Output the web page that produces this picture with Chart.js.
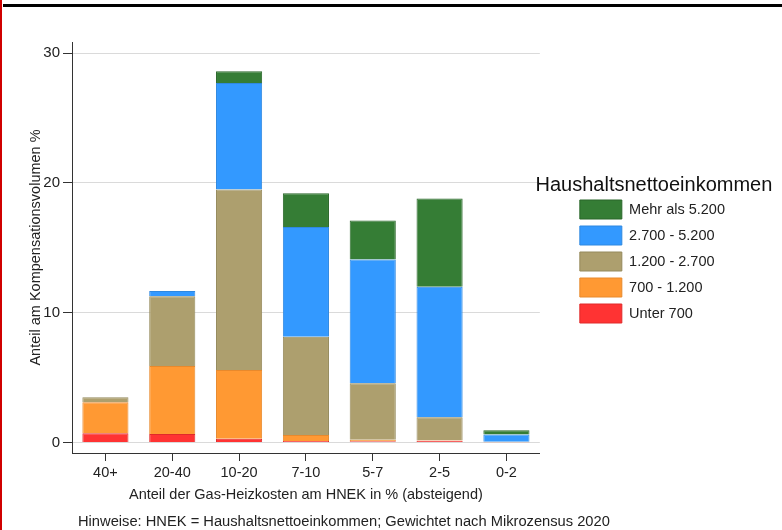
<!DOCTYPE html>
<html>
<head>
<meta charset="utf-8">
<script src="https://cdn.jsdelivr.net/npm/chart.js@4.4.1/dist/chart.umd.min.js"></script>
<style>
  html, body { margin: 0; padding: 0; background: #fff; }
  #wrap { position: relative; width: 782px; height: 530px; overflow: hidden; }
  #topline { position: absolute; left: 3px; top: 4px; width: 779px; height: 3px; background: #000; }
  #leftline { position: absolute; left: 0; top: 0; width: 2px; height: 530px; background: #d00000; }
  canvas { position: absolute; left: 0; top: 0; }
</style>
</head>
<body>
<div id="wrap">
  <canvas id="c" width="782" height="530"></canvas>
  <div id="topline"></div>
  <div id="leftline"></div>
</div>
<script>
const categories = ['40+', '20-40', '10-20', '7-10', '5-7', '2-5', '0-2'];
const unter700   = [0.72, 0.67, 0.30, 0.12, 0.10, 0.15, 0.02];
const s700_1200  = [2.38, 5.23, 5.30, 0.47, 0.12, 0.04, 0.02];
const s1200_2700 = [0.40, 5.38, 13.90, 7.56, 4.35, 1.76, 0.03];
const s2700_5200 = [0.00, 0.39, 8.20, 8.45, 9.53, 10.05, 0.55];
const mehr5200   = [0.00, 0.00, 0.90, 2.60, 3.00, 6.80, 0.33];
const seriesNames = ['Unter 700', '700 - 1.200', '1.200 - 2.700', '2.700 - 5.200', 'Mehr als 5.200'];
const yTickValues = [0, 10, 20, 30];
const yTitle = 'Anteil am Kompensationsvolumen %';
const xTitle = 'Anteil der Gas-Heizkosten am HNEK in % (absteigend)';
const legendTitle = 'Haushaltsnettoeinkommen';
const footnote = 'Hinweise: HNEK = Haushaltsnettoeinkommen; Gewichtet nach Mikrozensus 2020';

const FONT = "'Liberation Sans', Arial, Helvetica, sans-serif";
const fills   = ['#ff3333', '#ff9933', '#ad9f6e', '#3399ff', '#357d35'];
const borders = ['#e02a2a', '#e8892c', '#958a5c', '#2f88e0', '#2a672a'];
const seriesData = [unter700, s700_1200, s1200_2700, s2700_5200, mehr5200];
const LEGEND_GAP = 33;

const legendGapPlugin = {
  id: 'legendGap',
  beforeLayout(chart) {
    const lg = chart.legend;
    if (lg && !lg._gapPatched) {
      const origFit = lg.fit.bind(lg);
      lg.fit = function () { origFit(); this.width += LEGEND_GAP; };
      lg.draw = function () { if (this.options.display) { this._draw(); } };
      lg._gapPatched = true;
    }
  },
  afterLayout(chart) {
    const lg = chart.legend;
    const ca = chart.chartArea;
    if (lg) {
      lg.left += LEGEND_GAP;
      lg.width -= LEGEND_GAP;
      lg.top = ca.top;
      lg.bottom = ca.bottom;
      lg.height = ca.bottom - ca.top;
    }
  }
};

const footnotePlugin = {
  id: 'footnote',
  afterDraw(chart) {
    const ctx = chart.ctx;
    ctx.save();
    ctx.font = '14.7px ' + FONT;
    ctx.fillStyle = '#222';
    ctx.textBaseline = 'middle';
    ctx.textAlign = 'left';
    ctx.fillText(footnote, 78, 522);
    ctx.restore();
  }
};

new Chart(document.getElementById('c'), {
  type: 'bar',
  data: {
    labels: categories,
    datasets: seriesData.map((d, i) => ({
      label: seriesNames[i],
      data: d,
      backgroundColor: fills[i],
      borderColor: borders[i],
      borderWidth: 1,
      categoryPercentage: 1.0,
      barPercentage: 0.69
    }))
  },
  options: {
    responsive: false,
    animation: false,
    devicePixelRatio: 1,
    layout: { padding: { top: 42, left: 23, bottom: 26, right: 47 } },
    font: { family: FONT },
    plugins: {
      tooltip: { enabled: false },
      legend: {
        position: 'right',
        reverse: true,
        align: 'center',
        title: {
          display: true,
          text: legendTitle,
          color: '#111',
          font: { family: FONT, size: 20, lineHeight: 0.9 },
          padding: { top: 10, bottom: 0 }
        },
        labels: {
          boxWidth: 42,
          boxHeight: 19,
          padding: 7,
          color: '#222',
          font: { family: FONT, size: 14.5 }
        }
      }
    },
    scales: {
      x: {
        stacked: true,
        grid: { display: true, drawOnChartArea: false, drawTicks: true, tickLength: 8, offset: false, tickColor: '#333' },
        border: { display: true, color: '#333', width: 1 },
        ticks: { color: '#222', padding: 3, font: { family: FONT, size: 14.5 }, maxRotation: 0 },
        title: { display: true, text: xTitle, color: '#222', font: { family: FONT, size: 14.5 }, padding: { top: 0, bottom: 0 } },
        afterFit(s) { s.height = 51; }
      },
      y: {
        stacked: true,
        min: -0.8,
        max: 30.85,
        afterBuildTicks(s) { s.ticks = yTickValues.map(v => ({ value: v })); },
        grid: { color: '#dadada', lineWidth: 1, drawTicks: true, tickLength: 9, tickColor: '#333' },
        border: { display: true, color: '#333', width: 1 },
        ticks: { color: '#222', padding: 3, font: { family: FONT, size: 15 } },
        title: { display: true, text: yTitle, color: '#222', font: { family: FONT, size: 14.5 }, padding: { top: 4, bottom: 0 } },
        afterFit(s) { s.width = 49; }
      }
    }
  },
  plugins: [legendGapPlugin, footnotePlugin]
});
</script>
</body>
</html>
